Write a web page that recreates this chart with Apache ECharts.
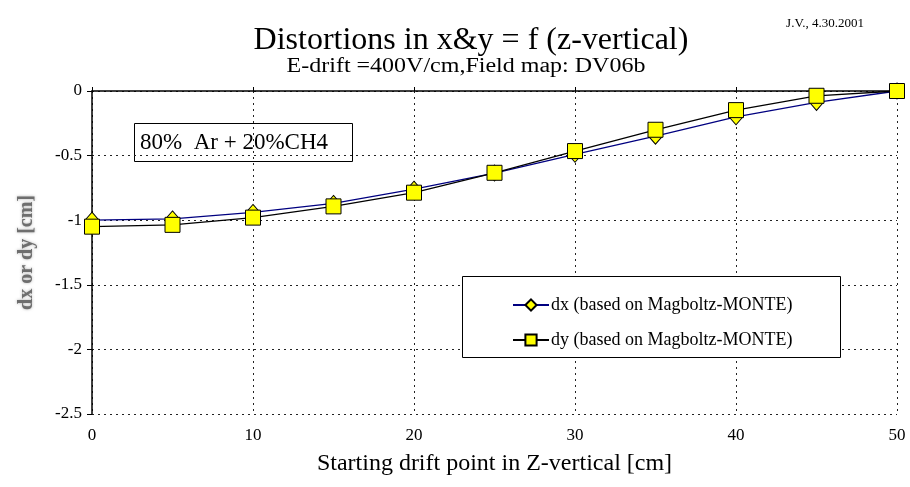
<!DOCTYPE html>
<html>
<head>
<meta charset="utf-8">
<script src="https://cdn.jsdelivr.net/npm/echarts@6/dist/echarts.min.js"></script>
<style>
  html, body { margin: 0; padding: 0; background: #fff; }
  #chart { width: 910px; height: 487px; }
</style>
</head>
<body>
<div id="chart"></div>
<script>
// Starting drift point along Z (cm)
const zPositions = [0, 5, 10, 15, 20, 25, 30, 35, 40, 45, 50];
// Distortion in x (cm)
const dxValues = [-1.0, -0.99, -0.94, -0.87, -0.76, -0.635, -0.49, -0.35, -0.20, -0.088, 0];
// Distortion in y (cm)
const dyValues = [-1.05, -1.036, -0.98, -0.893, -0.787, -0.633, -0.465, -0.30, -0.148, -0.037, 0];

const seriesNames = ['dx (based on Magboltz-MONTE)', 'dy (based on Magboltz-MONTE)'];
const FONT = '"Liberation Serif", "Times New Roman", serif';

const chart = echarts.init(document.getElementById('chart'), null, { renderer: 'canvas' });

chart.setOption({
  backgroundColor: '#ffffff',
  animation: false,
  textStyle: { fontFamily: FONT, color: '#000' },
  title: [
    {
      text: 'Distortions in x&y = f (z-vertical)',
      left: 466, top: 20, textAlign: 'center',
      textStyle: { fontFamily: FONT, fontSize: 32, fontWeight: 'normal', color: '#000' }
    },
    {
      text: 'J.V., 4.30.2001',
      left: 820, top: 12, textAlign: 'center',
      textStyle: { fontFamily: FONT, fontSize: 13, fontWeight: 'normal', color: '#000' }
    }
  ],
  grid: { left: 92, right: 13, top: 91, bottom: 73, containLabel: false },
  xAxis: {
    type: 'value',
    min: 0, max: 50, interval: 10,
    name: 'Starting drift point in Z-vertical [cm]',
    nameLocation: 'middle', nameGap: 38,
    nameTextStyle: { fontFamily: FONT, fontSize: 24, color: '#000' },
    axisLine: { show: true, lineStyle: { color: '#000', width: 1.5 } },
    axisTick: { show: true, inside: true, length: 4, lineStyle: { color: '#000' } },
    axisLabel: { fontFamily: FONT, fontSize: 17, color: '#000', margin: 13 },
    splitLine: { show: true, lineStyle: { color: '#222', type: [2, 4], width: 1 } }
  },
  yAxis: {
    type: 'value',
    min: -2.5, max: 0, interval: 0.5,
    name: 'dx or dy [cm]',
    nameLocation: 'middle', nameGap: 55, nameRotate: 90,
    nameTextStyle: {
      fontFamily: FONT, fontSize: 20, fontWeight: 'bold', color: '#6e6e6e',
      textShadowColor: 'rgba(120,120,120,0.6)', textShadowBlur: 3
    },
    axisLine: { show: true, onZero: false, lineStyle: { color: '#000', width: 1.5 } },
    axisTick: { show: true, inside: false, length: 5, lineStyle: { color: '#000' } },
    axisLabel: { fontFamily: FONT, fontSize: 17, color: '#000', margin: 10 },
    splitLine: { show: true, lineStyle: { color: '#222', type: [2, 4], width: 1 } }
  },
  legend: {
    orient: 'vertical',
    left: 512, top: 296,
    z: 12,
    padding: 0,
    itemWidth: 36, itemHeight: 14, itemGap: 17,
    textStyle: { fontFamily: FONT, fontSize: 18, color: '#000', padding: [0, 0, 0, -3] },
    data: seriesNames
  },
  graphic: [
    {
      // subtitle, set a little wider than the plain font
      type: 'text', z: 5,
      x: 466, y: 67, scaleX: 1.2, scaleY: 1,
      style: {
        text: 'E-drift =400V/cm,Field map: DV06b',
        font: '20px ' + FONT, fill: '#000',
        textAlign: 'center', textVerticalAlign: 'middle'
      }
    },
    {
      // opaque legend frame, drawn over the grid lines
      type: 'rect', silent: true, z: 11,
      shape: { x: 462.5, y: 276.5, width: 378, height: 81 },
      style: { fill: '#fff', stroke: '#000', lineWidth: 1 }
    },
    {
      type: 'group', z: 10,
      children: [
        {
          type: 'rect',
          shape: { x: 134.5, y: 123.5, width: 218, height: 38 },
          style: { fill: '#fff', stroke: '#000', lineWidth: 1 }
        },
        {
          type: 'text',
          x: 140, y: 143,
          style: { text: '80%  Ar + 20%CH4', font: '23px ' + FONT, fill: '#000', verticalAlign: 'middle' }
        }
      ]
    }
  ],
  series: [
    {
      name: seriesNames[0],
      type: 'line',
      data: zPositions.map((z, i) => [z, dxValues[i]]),
      symbol: 'diamond', symbolSize: [14, 16],
      lineStyle: { color: '#000080', width: 1.3 },
      itemStyle: { color: '#ffff00', borderColor: '#000', borderWidth: 1 },
      z: 3
    },
    {
      name: seriesNames[1],
      type: 'line',
      data: zPositions.map((z, i) => [z, dyValues[i]]),
      symbol: 'rect', symbolSize: 15,
      lineStyle: { color: '#000', width: 1.3 },
      itemStyle: { color: '#ffff00', borderColor: '#000', borderWidth: 1 },
      z: 4
    }
  ]
});
</script>
</body>
</html>
